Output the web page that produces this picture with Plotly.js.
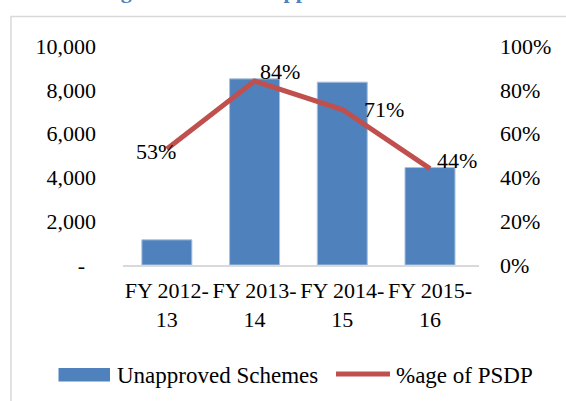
<!DOCTYPE html>
<html>
<head>
<meta charset="utf-8">
<script src="https://cdn.plot.ly/plotly-3.0.1.min.js"></script>
<style>html,body{margin:0;padding:0;background:#fff;}#chart{width:566px;height:401px;}</style>
</head>
<body>
<div id="chart"></div>
<script>
// ---- data ----
const categories = ["FY 2012-<br>13", "FY 2013-<br>14", "FY 2014-<br>15", "FY 2015-<br>16"];
const unapprovedSchemes = [1150, 8500, 8350, 4450];
const psdpShare = [0.53, 0.84, 0.71, 0.44];
const psdpLabels = ["53%", "84%", "71%", "44%"];
const leftTickVals = [0, 2000, 4000, 6000, 8000, 10000];
const leftTickText = ["-\u00a0\u00a0", "2,000", "4,000", "6,000", "8,000", "10,000"];
const rightTickVals = [0, 0.2, 0.4, 0.6, 0.8, 1.0];
const rightTickText = ["0%", "20%", "40%", "60%", "80%", "100%"];
const seriesNames = ["Unapproved Schemes", "%age of PSDP"];
const titleText = "Growing Number of Unapproved Schemes";

// ---- layout helpers (pixel -> paper) ----
const W = 566, H = 401, L = 123, R = 87, T = 46, B = 136;
const pw = W - L - R, ph = H - T - B;
const px = v => (v - L) / pw;
const py = v => (H - B - v) / ph;

const FONT = "Liberation Serif, Times New Roman, serif";
const BLUE = "#4f81bd", RED = "#c0504d";

const traces = [
  {
    type: "bar", x: categories, y: unapprovedSchemes, name: seriesNames[0],
    marker: {color: BLUE, line: {color: "#a9c0de", width: 1}},
    hoverinfo: "skip"
  },
  {
    type: "scatter", mode: "lines", x: categories, y: psdpShare, yaxis: "y2",
    name: seriesNames[1], line: {color: RED, width: 5}, hoverinfo: "skip"
  }
];

const labelShift = [[-11, -3], [25, 10], [42, 0], [27, 8]];
const annotations = psdpLabels.map((t, i) => ({
  x: categories[i], y: psdpShare[i], xref: "x", yref: "y2", text: t,
  showarrow: false, xshift: labelShift[i][0], yshift: labelShift[i][1],
  font: {family: FONT, size: 22, color: "#000"}
}));

annotations.push({
  xref: "paper", yref: "paper", x: px(115), y: py(375), xanchor: "left", yanchor: "middle",
  text: seriesNames[0], showarrow: false, font: {family: FONT, size: 23, color: "#000"}
});
annotations.push({
  xref: "paper", yref: "paper", x: px(394), y: py(375), xanchor: "left", yanchor: "middle",
  text: seriesNames[1], showarrow: false, font: {family: FONT, size: 23, color: "#000"}
});
annotations.push({
  xref: "paper", yref: "paper", x: px(47), y: py(-10), xanchor: "left", yanchor: "middle",
  text: "<b>" + titleText + "</b>", showarrow: false, font: {family: FONT, size: 22, color: BLUE}
});

const shapes = [
  {type: "rect", xref: "paper", yref: "paper", x0: px(11), x1: px(580), y0: py(420), y1: py(16.5),
   line: {color: "#d9d9d9", width: 1.5}, fillcolor: "rgba(0,0,0,0)", layer: "below"},
  {type: "rect", xref: "paper", yref: "paper", x0: px(58.5), x1: px(110), y0: py(381.5), y1: py(368),
   line: {width: 0}, fillcolor: BLUE},
  {type: "line", xref: "paper", yref: "paper", x0: px(336), x1: px(390), y0: py(374), y1: py(374),
   line: {color: RED, width: 5}}
];

const layout = {
  width: W, height: H,
  margin: {l: L, r: R, t: T, b: B, pad: 0},
  paper_bgcolor: "#fff", plot_bgcolor: "#fff",
  showlegend: false,
  bargap: 0.43,
  font: {family: FONT, size: 22, color: "#000"},
  xaxis: {
    type: "category", showline: true, linecolor: "#d9d9d9", linewidth: 1.5,
    ticks: "", showgrid: false, zeroline: false, ticklabelstandoff: 5,
    tickfont: {family: FONT, size: 22, color: "#000"}, fixedrange: true
  },
  yaxis: {
    range: [0, 10000], tickvals: leftTickVals, ticktext: leftTickText,
    showgrid: false, zeroline: false, showline: false, ticks: "", ticklabelstandoff: 26,
    tickfont: {family: FONT, size: 22, color: "#000"}, fixedrange: true
  },
  yaxis2: {
    range: [0, 1], overlaying: "y", side: "right", tickvals: rightTickVals, ticktext: rightTickText,
    showgrid: false, zeroline: false, showline: false, ticks: "", ticklabelstandoff: 20,
    tickfont: {family: FONT, size: 22, color: "#000"}, fixedrange: true
  },
  annotations: annotations,
  shapes: shapes
};

Plotly.newPlot("chart", traces, layout, {displayModeBar: false, staticPlot: true});
</script>
</body>
</html>
